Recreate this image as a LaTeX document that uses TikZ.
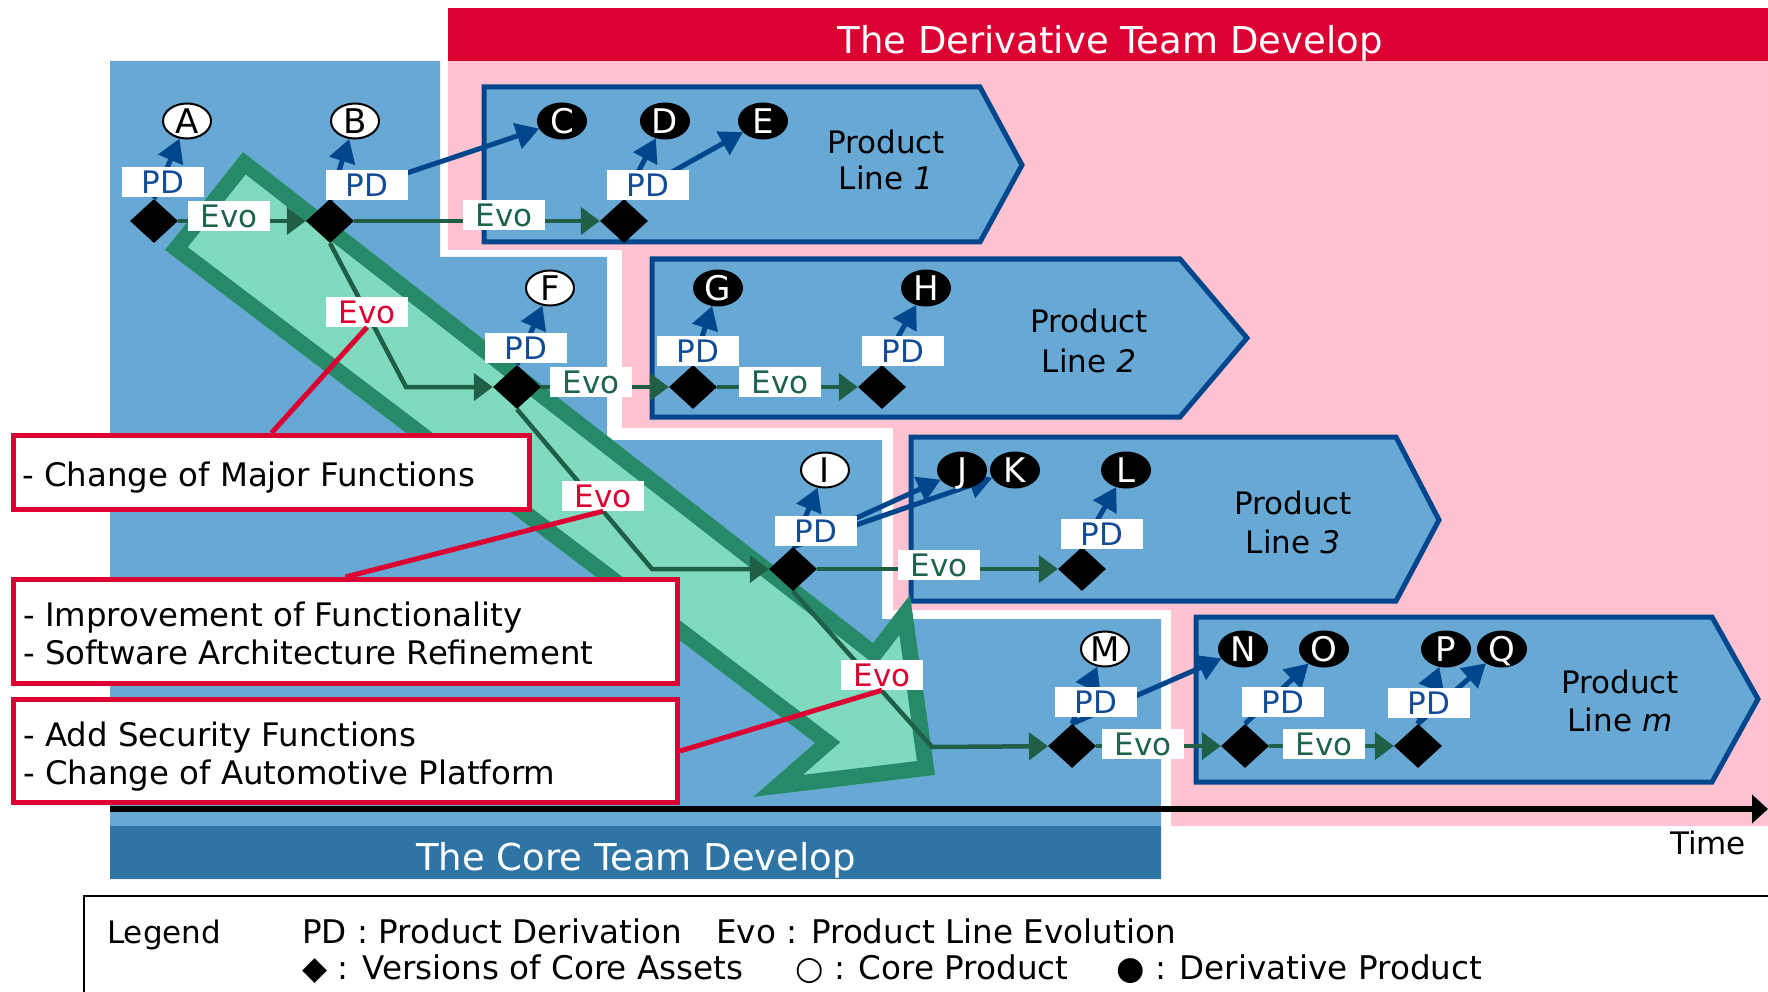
\documentclass[tikz,border=0pt]{standalone}
\usepackage{fontspec}
\setmainfont{DejaVu Sans}
\usetikzlibrary{arrows.meta,shapes.geometric}
\pgfdeclarelayer{bg}
\pgfdeclarelayer{lines}
\pgfsetlayers{bg,lines,main}
\definecolor{coreblue}{RGB}{104,168,212}
\definecolor{coredark}{RGB}{46,116,165}
\definecolor{pinkbg}{RGB}{255,194,208}
\definecolor{redband}{RGB}{220,0,50}
\definecolor{plborder}{RGB}{0,70,140}
\definecolor{pdblue}{RGB}{0,70,140}
\definecolor{pdtext}{RGB}{20,75,150}
\definecolor{evogreen}{RGB}{30,95,70}
\definecolor{evotext}{RGB}{30,100,72}
\definecolor{gfill}{RGB}{128,218,192}
\definecolor{gborder}{RGB}{38,138,106}
\begin{document}
\begin{tikzpicture}[x=1pt,y=-1pt,
  fa/.style={font=\fontsize{31}{37}\selectfont, text height=22.6pt, text depth=0pt, inner sep=0pt},
  fb/.style={font=\fontsize{32.4}{38}\selectfont, text height=23.6pt, text depth=0pt, inner sep=0pt},
  fl/.style={font=\fontsize{32.6}{38}\selectfont, text height=23.8pt, text depth=0pt, inner sep=0pt},
  ft/.style={font=\fontsize{37}{44}\selectfont, text height=27pt, text depth=0pt, inner sep=0pt, text=white},
  lab/.style={fa, fill=white, minimum width=82pt, minimum height=30pt},
  pdlab/.style={lab, text=pdtext},
  evolab/.style={lab, text=evotext},
  revolab/.style={lab, text=redband},
  ver/.style={diamond, fill=black, minimum width=48pt, minimum height=44pt, inner sep=0pt},
  coreprod/.style={ellipse, draw=black, line width=2pt, fill=white, minimum width=48pt, minimum height=35pt, inner sep=0pt, font=\fontsize{34}{38}\selectfont, text height=24.5pt, text depth=0pt},
  derivprod/.style={coreprod, fill=black, text=white},
  pdarrow/.style={draw=pdblue, line width=5pt, -{Triangle[length=23pt,width=26pt]}},
  evoarrow/.style={draw=evogreen, line width=4.5pt, -{Triangle[length=19pt,width=27pt]}},
  plbox/.style={fill=coreblue, draw=plborder, line width=5pt, line join=miter},
  leadline/.style={draw=redband, line width=5pt},
  cbox/.style={draw=redband, line width=5pt, fill=white, inner sep=0pt},
]
\useasboundingbox (0,0) rectangle (1768,992);

\begin{pgfonlayer}{bg}
\fill[white] (0,0) rectangle (1768,992);
\fill[pinkbg] (448,61) -- (1768,61) -- (1768,826) -- (1171,826) -- (1171,610) -- (893,610) -- (893,428) -- (622,428) -- (622,250) -- (448,250) -- cycle;
\fill[redband] (448,8) rectangle (1768,61);
\fill[coreblue] (110,61) -- (440,61) -- (440,257) -- (607,257) -- (607,440) -- (882,440) -- (882,619) -- (1161,619) -- (1161,879) -- (110,879) -- cycle;
\fill[coredark] (110,826) rectangle (1161,879);
% time axis
\coordinate (tstart) at (110,809);
\coordinate (tend) at (1768,809);
\draw[line width=6pt, -{Triangle[length=16pt,width=28pt]}] (tstart) -- (tend);
% product lines
\draw[plbox] (484,87) -- (980,87) -- (1022,165) -- (980,242) -- (484,242) -- cycle;
\draw[plbox] (652,259) -- (1180,259) -- (1247,338) -- (1180,417) -- (652,417) -- cycle;
\draw[plbox] (911,437) -- (1396,437) -- (1439,520) -- (1396,601) -- (911,601) -- cycle;
\draw[plbox] (1196,617) -- (1712,617) -- (1758,699) -- (1712,782) -- (1196,782) -- cycle;
% big green arrow
\begin{scope}
\clip (243,152) -- (873,643) -- (910,595) -- (935,775) -- (753,797) -- (815,743) -- (165,250) -- cycle;
\fill[gfill] (243,152) -- (873,643) -- (910,595) -- (935,775) -- (753,797) -- (815,743) -- (165,250) -- cycle;
\draw[gborder, line width=32pt, line join=miter] (243,152) -- (873,643) -- (910,595) -- (935,775) -- (753,797) -- (815,743) -- (165,250) -- cycle;
\end{scope}
\end{pgfonlayer}

% titles
\node[ft] (dertitle) at (1110,40) {The Derivative Team Develop};
\node[ft] (coretitle) at (636,857) {The Core Team Develop};
\node[fa] (time) at (1708,843) {Time};

% product line texts
\node[fa] (pl1a) at (886,142) {Product};
\node[fa] (pl1b) at (886,178) {Line \textit{1}};
\node[fa] (pl2a) at (1089,321) {Product};
\node[fa] (pl2b) at (1089,361) {Line \textit{2}};
\node[fa] (pl3a) at (1293,503) {Product};
\node[fa] (pl3b) at (1293,542) {Line \textit{3}};
\node[fa] (pl4a) at (1620,682) {Product};
\node[fa] (pl4b) at (1620,720) {Line \textit{m}};

% versions of core assets
\node[ver] (v1a) at (154,221) {};
\node[ver] (v1b) at (330,221) {};
\node[ver] (v1c) at (624,221) {};
\node[ver] (v2a) at (517,387) {};
\node[ver] (v2b) at (693,387) {};
\node[ver] (v2c) at (882,387) {};
\node[ver] (v3a) at (793,569) {};
\node[ver] (v3b) at (1082,569) {};
\node[ver] (v4a) at (1072,746) {};
\node[ver] (v4b) at (1245,746) {};
\node[ver] (v4c) at (1418,746) {};

% products
\node[coreprod] (eA) at (187,121) {A};
\node[coreprod] (eB) at (355,121) {B};
\node[derivprod] (eC) at (562,121) {C};
\node[derivprod] (eD) at (665,121) {D};
\node[derivprod] (eE) at (763,121) {E};
\node[coreprod] (eF) at (550,288) {F};
\node[derivprod] (eG) at (718,288) {G};
\node[derivprod] (eH) at (926,288) {H};
\node[coreprod] (eI) at (825,470) {I};
\node[derivprod] (eJ) at (962,470) {J};
\node[derivprod] (eK) at (1015,470) {K};
\node[derivprod] (eL) at (1126,470) {L};
\node[coreprod] (eM) at (1105,649) {M};
\node[derivprod] (eN) at (1243,649) {N};
\node[derivprod] (eO) at (1324,649) {O};
\node[derivprod] (eP) at (1446,649) {P};
\node[derivprod] (eQ) at (1502,649) {Q};

\coordinate (k1) at (406,387);
\coordinate (k2) at (652,569);
\coordinate (k3) at (932,747);

\begin{pgfonlayer}{lines}
% product derivation
\draw[pdarrow] (v1a.north) -- (eA);
\draw[pdarrow] (v1b.north) -- (eB);
\draw[pdarrow] (v1b.north) -- (eC);
\draw[pdarrow] (v1c.north) -- (eD);
\draw[pdarrow] (v1c.north) -- (eE);
\draw[pdarrow] (v2a.north) -- (eF);
\draw[pdarrow] (v2b.north) -- (eG);
\draw[pdarrow] (v2c.north) -- (eH);
\draw[pdarrow] (v3a.north) -- (eI);
\draw[pdarrow] (v3a.north) -- (eJ);
\draw[pdarrow] (v3a.north) -- (eK);
\draw[pdarrow] (v3b.north) -- (eL);
\draw[pdarrow] (v4a.north) -- (eM);
\draw[pdarrow] (v4a.north) -- (eN);
\draw[pdarrow] (v4b.north) -- (eO);
\draw[pdarrow] (v4c.north) -- (eP);
\draw[pdarrow] (v4c.north) -- (eQ);
% evolution
\draw[evoarrow] (v1a) -- (v1b);
\draw[evoarrow] (v1b) -- (v1c);
\draw[evoarrow] (v2a) -- (v2b);
\draw[evoarrow] (v2b) -- (v2c);
\draw[evoarrow] (v3a) -- (v3b);
\draw[evoarrow] (v4a) -- (v4b);
\draw[evoarrow] (v4b) -- (v4c);
\draw[evoarrow] (v1b.south) -- (k1) -- (v2a);
\draw[evoarrow] (v2a.south) -- (k2) -- (v3a);
\draw[evoarrow] (v3a.south) -- (k3) -- (v4a);
\end{pgfonlayer}

% PD labels
\node[pdlab] (pd1a) at (163,182) {PD};
\node[pdlab] (pd1b) at (367,185) {PD};
\node[pdlab] (pd1c) at (648,185) {PD};
\node[pdlab] (pd2a) at (526,348) {PD};
\node[pdlab] (pd2b) at (698,351) {PD};
\node[pdlab] (pd2c) at (903,351) {PD};
\node[pdlab] (pd3a) at (816,531) {PD};
\node[pdlab] (pd3b) at (1102,534) {PD};
\node[pdlab] (pd4a) at (1096,702) {PD};
\node[pdlab] (pd4b) at (1283,702) {PD};
\node[pdlab] (pd4c) at (1429,703) {PD};
% Evo labels
\node[evolab] (ev1a) at (229,216) {Evo};
\node[evolab] (ev1b) at (504,215) {Evo};
\node[evolab] (ev2a) at (591,382) {Evo};
\node[evolab] (ev2b) at (780,382) {Evo};
\node[evolab] (ev3a) at (939,565) {Evo};
\node[evolab] (ev4a) at (1143,744) {Evo};
\node[evolab] (ev4b) at (1324,744) {Evo};
% red Evo labels
\node[revolab] (re1) at (367,312) {Evo};
\node[revolab] (re2) at (603,496) {Evo};
\node[revolab] (re3) at (882,675) {Evo};

% callout boxes
\node[cbox, minimum width=516pt, minimum height=74pt] (cb1) at (271.5,472.5) {};
\node[cbox, minimum width=664pt, minimum height=104pt] (cb2) at (345.5,631.5) {};
\node[cbox, minimum width=664pt, minimum height=103pt] (cb3) at (345.5,751) {};
\node[fb, anchor=west] (t1) at (22,475) {- Change of Major Functions};
\node[fb, anchor=west] (t2) at (23,615) {- Improvement of Functionality};
\node[fb, anchor=west] (t3) at (23,653) {- Software Architecture Refinement};
\node[fb, anchor=west] (t4) at (23,735) {- Add Security Functions};
\node[fb, anchor=west] (t5) at (23,773) {- Change of Automotive Platform};
\draw[leadline] (cb1.north) -- (re1.south);
\draw[leadline] (cb2.north) -- (re2.south);
\draw[leadline] (cb3.east) -- (re3.south);

% legend
\coordinate (lgr) at (1768,896);
\coordinate (lgc) at (84,896);
\coordinate (lgb) at (84,992);
\draw[line width=2.5pt] (lgr) -- (lgc) -- (lgb);
\node[fa, anchor=west] (lg0) at (107,932) {Legend};
\node[fl, anchor=west] (lg1) at (302,932) {PD : Product Derivation};
\node[fl, anchor=west] (lg2) at (716,932) {Evo : Product Line Evolution};
\node[fl, anchor=west] (lg3) at (302,968) {◆ : Versions of Core Assets};
\node[fl, anchor=west] (lg4) at (795,968) {○ : Core Product};
\node[fl, anchor=west] (lg5) at (1116,968) {● : Derivative Product};
\end{tikzpicture}
\end{document}
